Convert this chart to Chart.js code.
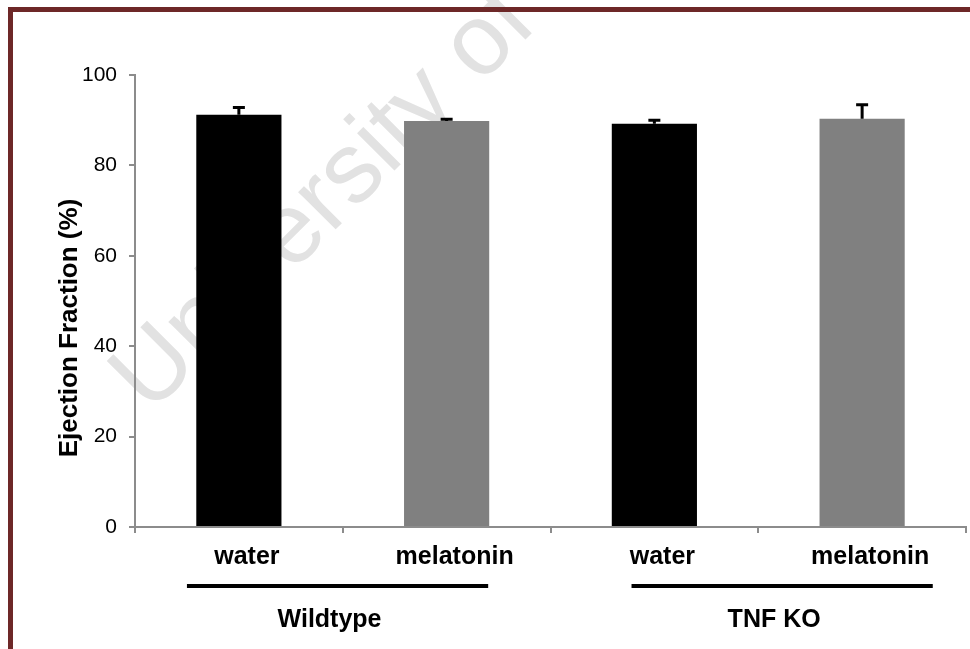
<!DOCTYPE html>
<html>
<head>
<meta charset="utf-8">
<script src="https://cdn.jsdelivr.net/npm/chart.js@4.4.0/dist/chart.umd.min.js"></script>
<style>
html, body { margin: 0; padding: 0; background: #fff; overflow: hidden; }
#wrap { width: 970px; height: 649px; }
</style>
</head>
<body>
<div id="wrap"><canvas id="efChart" width="970" height="649"></canvas></div>
<script>
/*
*Chart data
*/
const categories = ['water', 'melatonin', 'water', 'melatonin'];
const ejectionFraction = [91.2, 89.8, 89.2, 90.3];
const errorUp = [1.6, 0.4, 0.8, 3.1];
const barColors = ['#000000', '#808080', '#000000', '#808080'];
const groupNames = ['Wildtype', 'TNF KO'];
// first and last category index covered by each group line
const groupSpans = [[-0.25, 1.2], [1.89, 3.34]];
const yTickStep = 20;
const yMax = 100;

const FONT = 'Liberation Sans, Arial, sans-serif';
const AXIS_GREY = '#8c8c8c';

/*
*Background: white, watermark and maroon frame
*/
const backgroundPlugin = {
    id: 'background',
    beforeDraw(chart) {
        const ctx = chart.ctx;
        ctx.save();
        ctx.fillStyle = '#ffffff';
        ctx.fillRect(0, 0, chart.width, chart.height);
        // watermark
        ctx.translate(150, 415);
        ctx.rotate(-45 * Math.PI / 180);
        ctx.fillStyle = '#e2e2e2';
        ctx.font = '100px ' + FONT;
        ctx.textBaseline = 'alphabetic';
        ctx.textAlign = 'left';
        ctx.fillText('University of Cape Town', 0, 0);
        ctx.restore();
        // frame
        ctx.save();
        ctx.strokeStyle = '#6d2828';
        ctx.lineWidth = 5;
        ctx.strokeRect(10.5, 9.5, 2000, 2000);
        ctx.restore();
    }
};

/*
*Error bars (upper half only)
*/
const errorBarPlugin = {
    id: 'errorBars',
    afterDatasetsDraw(chart) {
        const ctx = chart.ctx;
        const yScale = chart.scales.y;
        const meta = chart.getDatasetMeta(0);
        ctx.save();
        ctx.strokeStyle = '#000';
        ctx.lineWidth = 3;
        meta.data.forEach((bar, i) => {
            const top = yScale.getPixelForValue(ejectionFraction[i] + errorUp[i]);
            ctx.beginPath();
            ctx.moveTo(bar.x, bar.y);
            ctx.lineTo(bar.x, top);
            ctx.moveTo(bar.x - 6, top);
            ctx.lineTo(bar.x + 6, top);
            ctx.stroke();
        });
        ctx.restore();
    }
};

/*
*Group lines, group names and y axis title
*/
const groupPlugin = {
    id: 'groups',
    afterDraw(chart) {
        const ctx = chart.ctx;
        const xScale = chart.scales.x;
        const area = chart.chartArea;
        ctx.save();
        ctx.fillStyle = '#000';
        ctx.font = 'bold 25px ' + FONT;
        ctx.textAlign = 'center';
        ctx.textBaseline = 'middle';
        for (let i = 0; i < groupNames.length; i++) {
            const x1 = xScale.getPixelForValue(groupSpans[i][0]);
            const x2 = xScale.getPixelForValue(groupSpans[i][1]);
            ctx.fillRect(x1, area.bottom + 57, x2 - x1, 4);
            ctx.fillText(groupNames[i], (x1 + x2) / 2 - 8, area.bottom + 93);
        }
        // y title
        ctx.font = 'bold 26px ' + FONT;
        ctx.translate(70, 328);
        ctx.rotate(-Math.PI / 2);
        ctx.fillText('Ejection Fraction (%)', 0, 0);
        ctx.restore();
    }
};

function drawGraphic() {
    const ctx = document.getElementById('efChart').getContext('2d');
    return new Chart(ctx, {
        type: 'bar',
        data: {
            labels: categories,
            datasets: [{
                data: ejectionFraction,
                backgroundColor: barColors,
                borderWidth: 0,
                categoryPercentage: 1,
                barPercentage: 0.41
            }]
        },
        options: {
            responsive: false,
            animation: false,
            devicePixelRatio: 1,
            layout: { padding: { top: 75, right: 4, left: 0, bottom: 0 } },
            plugins: {
                legend: { display: false },
                tooltip: { enabled: false }
            },
            scales: {
                x: {
                    grid: {
                        offset: true,
                        drawOnChartArea: false,
                        drawTicks: true,
                        tickLength: 6,
                        color: AXIS_GREY,
                        lineWidth: 2
                    },
                    border: { color: AXIS_GREY, width: 2 },
                    ticks: {
                        color: '#000',
                        font: { family: FONT, weight: 'bold', size: 25 },
                        padding: 9,
                        labelOffset: 8,
                        maxRotation: 0
                    },
                    afterFit(scale) { scale.height = 122; }
                },
                y: {
                    min: 0,
                    max: yMax,
                    grid: {
                        drawOnChartArea: false,
                        drawTicks: true,
                        tickLength: 6,
                        color: AXIS_GREY,
                        lineWidth: 2
                    },
                    border: { color: AXIS_GREY, width: 2 },
                    ticks: {
                        stepSize: yTickStep,
                        color: '#000',
                        font: { family: FONT, size: 21 },
                        padding: 12
                    },
                    afterFit(scale) { scale.width = 135; }
                }
            }
        },
        plugins: [backgroundPlugin, errorBarPlugin, groupPlugin]
    });
}

drawGraphic();
</script>
</body>
</html>
